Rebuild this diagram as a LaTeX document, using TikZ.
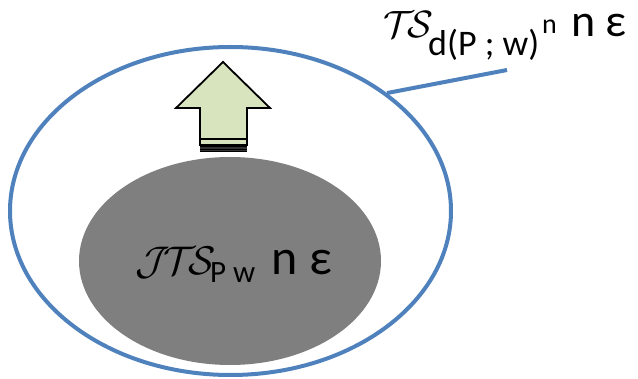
\documentclass[tikz,border=0pt]{standalone}
\usepackage{fontspec}
\usepackage{graphicx}
\setmainfont{Carlito}
\usetikzlibrary{shapes.geometric}
\definecolor{setblue}{HTML}{4F81BD}
\definecolor{setgray}{HTML}{7F7F7F}
\definecolor{arrowgreen}{HTML}{D7E4BD}
\begin{document}
\begin{tikzpicture}[x=1pt,y=-1pt,
  outerset/.style={ellipse, draw=setblue, line width=4pt, minimum width=441pt, minimum height=328pt, inner sep=0pt},
  innerset/.style={ellipse, fill=setgray, minimum width=302pt, minimum height=208pt, inner sep=0pt},
  txt/.style={inner sep=0pt, anchor=base west},
  pointer/.style={draw=setblue, line width=4pt}]
\useasboundingbox (0,0) rectangle (638,379);
\node[outerset] (outer) at (230.5,211) {};
\node[innerset] (inner) at (230,261) {};
% block arrow
\draw[fill=arrowgreen, line width=1.8pt, line join=miter]
  (223,62) -- (270,108) -- (247,108) -- (247,139) -- (200,139) -- (200,108) -- (176,108) -- cycle;
\draw[fill=arrowgreen, line width=1.3pt] (200,139) rectangle (247,145);
\fill[black!80] (200,146) rectangle (247,152);
\draw[line width=1pt] (200,146.5) -- (247,146.5);
\draw[line width=1pt] (200,149.5) -- (247,149.5);
\draw[line width=1pt] (200,152) -- (247,152);
% top label
\node[txt] (ts) at (383,38) {\scalebox{3.8}{$\mathcal{T}\!\mathcal{S}$}};
\node[txt] (tssub) at (428,56) {\fontsize{36}{40}\selectfont d(P ; w)};
\node[txt] (tssup) at (542,34) {\fontsize{28}{30}\selectfont n};
\node[txt] (tsn) at (571,37) {\fontsize{46}{50}\selectfont n};
\node[txt] (tseps) at (605,37) {\fontsize{46}{50}\selectfont ε};
% inner label
\node[txt] (jts) at (135,275) {\scalebox{4.0}{$\mathcal{J}\!\mathcal{T}\!\mathcal{S}$}};
\node[txt] (jtssub) at (210,283) {\fontsize{31}{34}\selectfont P w};
\node[txt] (jtsn) at (271,275) {\fontsize{50}{54}\selectfont n};
\node[txt] (jtseps) at (309,275) {\fontsize{50}{54}\selectfont ε};
\coordinate (tip) at (507,70);
\draw[pointer] (outer.37) -- (tip);
\end{tikzpicture}
\end{document}
